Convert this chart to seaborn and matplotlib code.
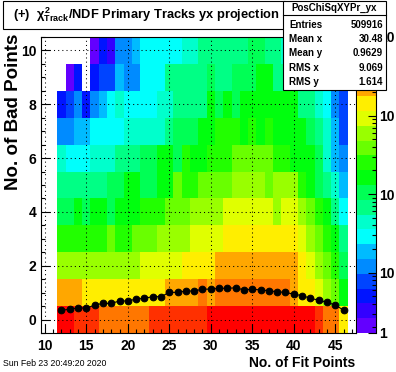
import colorsys
import numpy as np
import pandas as pd
import matplotlib
matplotlib.use("Agg")
import matplotlib.pyplot as plt
from matplotlib.colors import ListedColormap
from matplotlib.patches import Rectangle
from matplotlib.lines import Line2D
from matplotlib.ticker import MultipleLocator, LogLocator, NullFormatter
import seaborn as sns

# bins: No. of Fit Points (x) and No. of Bad Points (y)
fit_points = list(range(12, 47))
bad_points = list(range(0, 11))

# bin contents, one list per No. of Bad Points, x = 12 ... 46
row_0 = [8040, 8040, 5211, 5211, 5211, 3377, 3377, 3377, 3377, 3377, 3377, 5211, 5211, 5211, 5211, 5211, 5211,
         5211, 8040, 8040, 8040, 8040, 8040, 8040, 8040, 8040, 8040, 8040, 8040, 8040, 8040, 5211, 3377, 3377, 1418]
row_1 = [2188, 2188, 2188, 1418, 1418, 1418, 1418, 1418, 1418, 1418, 1418, 1418, 1418, 2188, 2188, 2188, 2188,
         3377, 2188, 3377, 3377, 3377, 3377, 3377, 3377, 3377, 3377, 3377, 2188, 1418, 1418, 918, 595, 386, 162]
row_2 = [595, 595, 595, 595, 595, 595, 595, 595, 595, 595, 918, 918, 918, 918, 918, 1418, 1418, 1418,
         1418, 2188, 2188, 2188, 2188, 2188, 2188, 2188, 2188, 2188, 2188, 1418, 918, 595, 386, 250, 105]
row_3 = [250, 250, 250, 250, 250, 250, 386, 250, 250, 386, 386, 386, 595, 595, 595, 595, 918, 918,
         918, 918, 1418, 1418, 1418, 1418, 1418, 1418, 1418, 1418, 1418, 918, 595, 386, 250, 162, 68]
row_4 = [105, 105, 162, 105, 162, 162, 105, 162, 162, 162, 250, 250, 250, 386, 386, 386, 595, 595,
         595, 595, 918, 918, 918, 918, 918, 918, 595, 918, 918, 595, 386, 250, 162, 68, 28]
row_5 = [68, 68, 68, 68, 68, 68, 105, 105, 162, 162, 105, 105, 162, 162, 386, 250, 250, 386,
         386, 386, 386, 595, 595, 595, 595, 386, 595, 595, 595, 250, 162, 105, 68, 44, 18]
row_6 = [44, 28, 28, 28, 44, 44, 44, 68, 68, 68, 105, 105, 162, 162, 105, 250, 162, 162,
         250, 250, 250, 386, 386, 386, 386, 386, 250, 250, 162, 162, 162, 105, 44, 18, 12]
row_7 = [12, 12, 18, 18, 28, 28, 28, 28, 44, 44, 44, 44, 44, 68, 105, 105, 105, 162,
         162, 250, 250, 250, 162, 250, 162, 250, 162, 162, 162, 162, 105, 68, 44, 18, 8]
row_8 = [5, 8, 12, 5, 12, 18, 28, 44, 28, 28, 28, 28, 44, 44, 68, 68, 68, 68,
         162, 105, 162, 105, 162, 162, 162, 162, 162, 162, 162, 68, 68, 44, 28, 12, 8]
row_9 = [0, 2, 5, 0, 5, 8, 8, 18, 12, 12, 28, 28, 28, 68, 68, 68, 68, 68,
         105, 68, 68, 105, 105, 105, 162, 162, 68, 68, 68, 44, 44, 28, 18, 8, 5]
row_10 = [0, 0, 0, 0, 2, 5, 3, 12, 12, 18, 28, 28, 28, 28, 28, 44, 44, 68,
          68, 68, 68, 68, 68, 105, 105, 68, 68, 44, 68, 28, 28, 28, 18, 8, 3]

# profile: mean No. of Bad Points for each No. of Fit Points
profile_mean = [0.35, 0.38, 0.44, 0.42, 0.54, 0.60, 0.60, 0.69, 0.69, 0.76, 0.79, 0.85, 0.85, 1.01, 1.01,
                1.06, 1.06, 1.13, 1.13, 1.16, 1.16, 1.18, 1.10, 1.13, 1.10, 1.07, 1.03, 1.01, 0.94, 0.89,
                0.79, 0.72, 0.64, 0.54, 0.35]

stat_names = ["Entries", "Mean x", "Mean y", "RMS x", "RMS y"]
stat_values = ["509916", "30.48", "0.9629", "9.069", "1.614"]

z_min, z_max = 1.7, 1.0e4

plt.rcParams['font.family'] = ['Liberation Sans', 'DejaVu Sans']
plt.rcParams['font.weight'] = 'bold'
plt.rcParams['mathtext.fontset'] = 'custom'
plt.rcParams['mathtext.rm'] = 'Liberation Sans:bold'
plt.rcParams['mathtext.it'] = 'Liberation Sans:bold'
plt.rcParams['mathtext.bf'] = 'Liberation Sans:bold'


# old ROOT "pretty" palette, 20 contour levels out of 50 colours
def root_palette(ndiv=20, ncol=50):
    cols = []
    for c in range(ndiv):
        idx = int((c + 0.99) * ncol / ndiv)
        hue = 280 - (idx + 1) * 280 / ncol
        cols.append(colorsys.hls_to_rgb(hue / 360, 0.5, 1.0))
    return ListedColormap(cols)


df = pd.DataFrame({
    "fit": np.tile(fit_points, len(bad_points)),
    "bad": np.repeat(bad_points, len(fit_points)),
    "n": np.concatenate([row_0, row_1, row_2, row_3, row_4, row_5,
                         row_6, row_7, row_8, row_9, row_10]),
})

W, H = 396, 372
fig = plt.figure(figsize=(W / 100, H / 100), dpi=100)


def fx(px):
    return px / W


def fy(py):
    return 1 - py / H


ax = fig.add_axes([fx(40.7), fy(333), fx(356) - fx(40.7), fy(37) - fy(333)])
cax = fig.add_axes([fx(357), fy(333), fx(376) - fx(357), fy(37) - fy(333)])

sns.histplot(data=df, x="fit", y="bad", weights="n", discrete=True,
             cmap=root_palette(), norm="log", vmin=z_min, vmax=z_max,
             cbar=True, cbar_ax=cax, ax=ax)

sns.lineplot(x=fit_points, y=profile_mean, ax=ax, color='black', marker='o',
             markersize=4.8, markeredgecolor='black', linewidth=0.8, zorder=5)

ax.set_xlim(9.5, 47.5)
ax.set_ylim(-0.5, 10.5)
ax.set_xlabel('')
ax.set_ylabel('')
ax.set_xticks(range(10, 46, 5))
ax.set_yticks(range(0, 11, 2))
ax.xaxis.set_minor_locator(MultipleLocator(1))
ax.yaxis.set_minor_locator(MultipleLocator(0.5))
ax.tick_params(which='both', direction='in', top=False, right=False, width=0.8, labelsize=10)
ax.tick_params(which='major', length=6.5)
ax.tick_params(which='minor', length=3.2)
ax.tick_params(axis='x', pad=4)
ax.tick_params(axis='y', pad=3)
ax.grid(True, which='major', color='black', linestyle=(0, (1, 3)), linewidth=0.75)
ax.set_axisbelow(False)
for sp in ax.spines.values():
    sp.set_linewidth(0.8)
    sp.set_color('black')

# palette axis
cbar = ax.collections[0].colorbar
cbar.outline.set_visible(False)
cbar.set_ticks([z_min, 10, 100, 1000, 10000])
cbar.set_ticklabels(['1', '10', '10', '10', '10'])
cax.yaxis.set_minor_locator(LogLocator(base=10, subs=np.arange(2, 10)))
cax.yaxis.set_minor_formatter(NullFormatter())
cax.tick_params(which='both', direction='in', right=True, left=False, width=0.8,
                labelsize=10, pad=2)
cax.tick_params(which='major', length=5.5)
cax.tick_params(which='minor', length=3)
cax.spines['right'].set_visible(True)
cax.spines['right'].set_linewidth(0.8)

# title box
fig.add_artist(Rectangle((fx(3), fy(28.5)), fx(285) - fx(3), fy(1) - fy(28.5),
                         transform=fig.transFigure, facecolor='white', edgecolor='black',
                         linewidth=0.8, zorder=10))
fig.text(fx(146), fy(15), r"(+)  $\chi^{2}_{\mathrm{Track}}$/NDF Primary Tracks yx projection",
         ha='center', va='center', fontsize=9.3, fontweight='bold', zorder=11)

# stats box
fig.add_artist(Rectangle((fx(283), fy(90)), fx(386) - fx(283), fy(1) - fy(90),
                         transform=fig.transFigure, facecolor='white', edgecolor='black',
                         linewidth=0.8, zorder=10))
fig.add_artist(Line2D([fx(283), fx(386)], [fy(15), fy(15)], transform=fig.transFigure,
                      color='black', linewidth=0.8, zorder=11))
fig.text(fx(334.5), fy(8), "PosChiSqXYPr_yx", ha='center', va='center', fontsize=7,
         fontweight='bold', zorder=11)
for i, (name, val) in enumerate(zip(stat_names, stat_values)):
    ypos = fy(25 + i * 14.2)
    fig.text(fx(289), ypos, name, ha='left', va='center', fontsize=7, fontweight='bold', zorder=11)
    fig.text(fx(383), ypos, val, ha='right', va='center', fontsize=7, fontweight='bold', zorder=11)

# axis titles and date
fig.text(fx(355), fy(363), "No. of Fit Points", ha='right', va='center', fontsize=10, fontweight='bold')
fig.text(fx(14), fy(34), "No. of Bad Points", ha='center', va='top', rotation=90,
         fontsize=13.5, fontweight='bold')
fig.text(fx(3), fy(364), "Sun Feb 23 20:49:20 2020", ha='left', va='center', fontsize=6.3,
         fontweight='normal')

fig.savefig("out.png", dpi=100)
